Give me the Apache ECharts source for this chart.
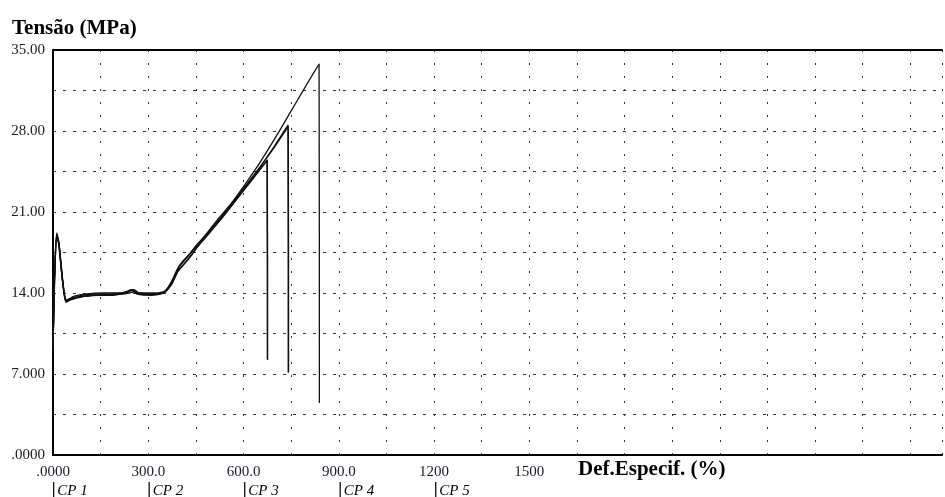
<!DOCTYPE html>
<html lang="pt">
<head>
  <meta charset="UTF-8">
  <title>Tensão x Def.Especif.</title>
  <style>
    html, body { margin: 0; padding: 0; background: #fff; }
  </style>
</head>
<body>
  <div id="main" style="width: 945px; height: 497px"></div>
  <script src="https://cdn.jsdelivr.net/npm/echarts@6/dist/echarts.min.js"></script>
  <script>
    // corpos de prova (CP) - [def. especifica %, tensao MPa]
    const names = ['CP 1', 'CP 2', 'CP 3', 'CP 4', 'CP 5'];
    const cp1 = [[0,9.2],[4,14.5],[12,18.9],[18,18.2],[30,15.0],[40,13.3],[55,13.4],[80,13.6],[120,13.8],[180,13.8],[230,14.0],[248,14.2],[265,13.9],[310,13.8],[350,14.0],[375,14.8],[395,16.0],[412,16.5],[430,17.1],[455,18.0],[490,19.1],[530,20.4],[570,21.8],[610,23.2],[645,24.4],[675,25.5],[676,8.2]];
    const cp2 = [[0,9.0],[4,14.8],[11,19.1],[18,18.4],[30,15.1],[41,13.2],[60,13.5],[90,13.8],[140,13.9],[200,13.9],[235,14.1],[250,14.3],[268,14.0],[320,13.9],[345,14.0],[368,14.6],[390,15.9],[405,16.6],[425,17.2],[450,18.0],[485,19.1],[525,20.4],[565,21.8],[605,23.2],[650,24.8],[700,26.8],[740,28.5],[741,7.1]];
    const cp3 = [[0,9.1],[4,15.0],[12,19.2],[19,18.3],[31,15.0],[42,13.3],[65,13.7],[100,13.9],[160,14.0],[215,14.0],[240,14.2],[255,14.3],[272,14.0],[330,14.0],[355,14.2],[378,15.2],[398,16.3],[420,17.0],[445,17.9],[480,19.0],[520,20.4],[560,21.7],[600,23.2],[650,25.2],[700,27.4],[745,29.5],[790,31.6],[838,33.8],[839,4.5]];
    const cp4 = [[0,9.0],[5,15.2],[12,19.0],[19,18.2],[31,14.8],[42,13.4],[62,13.6],[95,13.7],[150,13.8],[210,13.9],[240,14.0],[255,14.1],[275,13.9],[330,13.9],[352,14.1],[372,14.9],[392,16.1],[408,16.7],[428,17.3],[452,18.1],[488,19.2],[528,20.5],[568,21.9],[608,23.3],[652,24.9],[700,26.7],[741,28.4],[742,7.2]];
    const cp5 = [[0,9.3],[5,15.1],[12,19.0],[18,18.3],[30,15.2],[41,13.4],[58,13.5],[85,13.7],[130,13.8],[190,13.9],[232,14.1],[246,14.3],[262,14.0],[305,13.9],[345,14.0],[372,14.7],[392,15.8],[410,16.4],[432,17.1],[458,18.1],[492,19.2],[532,20.5],[572,21.9],[612,23.3],[646,24.5],[674,25.4],[675,8.3]];
    const series_data = [cp1, cp2, cp3, cp4, cp5];

    // rotulos no formato do ensaio (4 algarismos)
    function fmt(v) {
      if (v === 0) return '.0000';
      return Number(v).toPrecision(4);
    }

    let myChart = echarts.init(document.getElementById('main'));
    let option = {
      animation: false,
      backgroundColor: '#fff',
      title: {
        text: 'Tensão (MPa)',
        left: 7,
        top: 13,
        textStyle: { fontFamily: 'Liberation Serif', fontWeight: 'bold', fontSize: 21, color: '#000' }
      },
      grid: { left: 53, top: 50, right: 0, bottom: 42 },
      legend: {
        data: names,
        left: 48,
        bottom: -8,
        icon: 'rect',
        itemWidth: 1.3,
        itemHeight: 18,
        itemGap: 60.8,
        selectedMode: false,
        textStyle: { fontFamily: 'Liberation Serif', fontStyle: 'italic', fontSize: 15, color: '#000', padding: [4, 0, 0, -2] }
      },
      graphic: [{
        type: 'text',
        left: 578,
        top: 459,
        style: { text: 'Def.Especif. (%)', font: 'bold 21px "Liberation Serif"', fill: '#000' }
      }],
      xAxis: [{
        type: 'value',
        min: 0,
        max: 2800,
        interval: 150,
        axisLine: { lineStyle: { color: '#000', width: 2 } },
        axisTick: { show: false },
        axisLabel: {
          interval: 1,
          margin: 10,
          fontFamily: 'Liberation Serif',
          fontSize: 15,
          color: '#1a1a2a',
          formatter: function (v) { return (v > 1500 || v % 300 !== 0) ? '' : fmt(v); }
        },
        splitLine: { show: true, lineStyle: { color: '#333', width: 1, type: [2, 11] } }
      }, {
        // borda superior do grafico
        type: 'value',
        position: 'top',
        min: 0,
        max: 2800,
        axisLine: { show: true, lineStyle: { color: '#000', width: 2 } },
        axisTick: { show: false },
        axisLabel: { show: false },
        splitLine: { show: false }
      }],
      yAxis: {
        type: 'value',
        min: 0,
        max: 35,
        interval: 3.5,
        axisLine: { show: true, lineStyle: { color: '#000', width: 2 } },
        axisTick: { show: false },
        axisLabel: {
          margin: 8,
          fontFamily: 'Liberation Serif',
          fontSize: 15,
          color: '#1a1a2a',
          formatter: function (v) { return (Math.round(v * 10) % 70 !== 0) ? '' : fmt(v); }
        },
        splitLine: { show: true, lineStyle: { color: '#333', width: 1, type: [3, 7] } }
      },
      series: series_data.map(function (d, i) {
        return {
          name: names[i],
          type: 'line',
          data: d,
          showSymbol: false,
          smooth: 0.2,
          lineStyle: { color: '#111', width: 1.3 },
          itemStyle: { color: '#111' }
        };
      })
    };
    myChart.setOption(option);
  </script>
</body>
</html>
